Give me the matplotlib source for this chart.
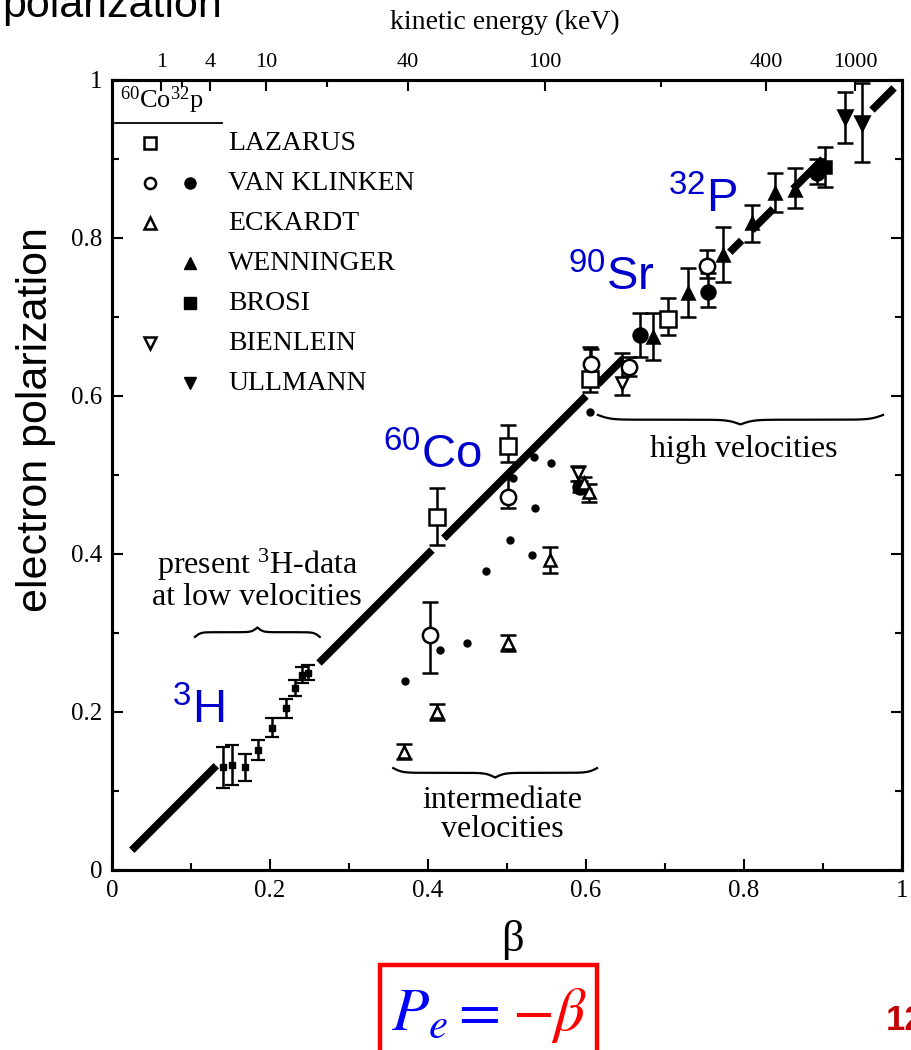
import numpy as np
import matplotlib
matplotlib.use("Agg")
import matplotlib.pyplot as plt
from matplotlib.patches import Rectangle

W, H = 912, 1050
SERIF = ["Liberation Serif", "DejaVu Serif"]
SANS = ["Liberation Sans", "DejaVu Sans"]
BLUE = "#0000cc"
plt.rcParams["mathtext.fontset"] = "stix"

# ---- values: beta, polarization, error bar low / high ----
# thick P = beta line, drawn in pieces between the data
fit_start = [0.025, 0.262, 0.420, 0.615, 0.782, 0.810, 0.862, 0.962]
fit_end = [0.132, 0.405, 0.600, 0.647, 0.797, 0.837, 0.900, 0.990]

# present 3H data at low velocities
h3_beta = [0.140, 0.152, 0.168, 0.185, 0.203, 0.220, 0.232, 0.240, 0.248]
h3_pol = [0.130, 0.133, 0.130, 0.152, 0.180, 0.205, 0.230, 0.247, 0.250]
h3_err = [0.026, 0.025, 0.017, 0.013, 0.012, 0.012, 0.010, 0.010, 0.010]

laz_beta = [0.411, 0.501, 0.605, 0.704]
laz_pol = [0.447, 0.537, 0.622, 0.697]
laz_lo = [0.411, 0.516, 0.605, 0.677]
laz_hi = [0.484, 0.563, 0.662, 0.724]

vko_beta = [0.402, 0.501, 0.606, 0.655, 0.753]
vko_pol = [0.297, 0.472, 0.640, 0.637, 0.765]
vko_lo = [0.250, 0.458, 0.625, 0.625, 0.750]
vko_hi = [0.339, 0.496, 0.660, 0.650, 0.785]

vkf_beta = [0.592, 0.668, 0.754, 0.893]
vkf_pol = [0.485, 0.677, 0.732, 0.882]
vkf_lo = [0.478, 0.649, 0.713, 0.868]
vkf_hi = [0.492, 0.705, 0.756, 0.900]

# small dots of the intermediate region
dot_beta = [0.371, 0.415, 0.449, 0.473, 0.504, 0.532, 0.535, 0.556, 0.605, 0.508, 0.534]
dot_pol = [0.239, 0.278, 0.287, 0.378, 0.418, 0.399, 0.458, 0.515, 0.580, 0.496, 0.523]

eck_beta = [0.370, 0.412, 0.501, 0.554, 0.598, 0.604]
eck_pol = [0.150, 0.200, 0.287, 0.392, 0.490, 0.478]
eck_lo = [0.140, 0.190, 0.277, 0.376, 0.482, 0.466]
eck_hi = [0.160, 0.210, 0.297, 0.409, 0.498, 0.488]

wen_beta = [0.685, 0.729, 0.774, 0.810, 0.839, 0.865]
wen_pol = [0.675, 0.730, 0.778, 0.819, 0.857, 0.861]
wen_lo = [0.646, 0.700, 0.744, 0.795, 0.833, 0.838]
wen_hi = [0.705, 0.762, 0.814, 0.842, 0.882, 0.889]

bro_beta = [0.903]
bro_pol = [0.890]
bro_lo = [0.865]
bro_hi = [0.915]

bie_beta = [0.590, 0.645]
bie_pol = [0.503, 0.617]
bie_lo = [0.493, 0.601]
bie_hi = [0.512, 0.654]

ull_beta = [0.928, 0.949]
ull_pol = [0.953, 0.945]
ull_lo = [0.920, 0.896]
ull_hi = [0.985, 0.996]

# legend table: open marker (60Co column), filled marker (32P column)
legend_names = ["LAZARUS", "VAN KLINKEN", "ECKARDT", "WENNINGER", "BROSI", "BIENLEIN", "ULLMANN"]
legend_open = ["s", "o", "^", None, None, "v", None]
legend_filled = [None, "o", None, "^", "s", None, "v"]

# top axis: kinetic energy in keV
ke_major = [1, 4, 10, 40, 100, 400, 1000]
ke_minor = [2, 20, 200]


def beta_of(t_kev):
    gamma = 1.0 + np.asarray(t_kev, float) / 511.0
    return np.sqrt(1.0 - 1.0 / gamma ** 2)


def fx(px):
    return px / W


def fy(py):
    return 1.0 - py / H


def series(ax, b, p, lo, hi, marker, filled, ms=10):
    yerr = [np.subtract(p, lo), np.subtract(hi, p)]
    ax.errorbar(b, p, yerr=yerr, fmt=marker, ms=ms, mfc="k" if filled else "white",
                mec="k", mew=1.8, ecolor="k", elinewidth=1.8, capsize=6,
                capthick=1.8, zorder=4)


def brace(ax, x0, x1, y0, h, down=True):
    n = 401
    x = np.linspace(x0, x1, n)
    half = x[: n // 2 + 1]
    k = 45.0 / (x1 - x0)
    yh = 1 / (1 + np.exp(-k * (half - half[0]))) + 1 / (1 + np.exp(-k * (half - half[-1])))
    yb = np.concatenate((yh, yh[-2::-1])) - 1.0
    sign = -1 if down else 1
    ax.plot(x, y0 + sign * h * yb, color="k", lw=1.6, zorder=3)


fig = plt.figure(figsize=(W / 100, H / 100), dpi=100)
ax = fig.add_axes([fx(112), fy(870), 790 / W, 790 / H])
ax.set_xlim(0, 1)
ax.set_ylim(0, 1)

for s, e in zip(fit_start, fit_end):
    ax.plot([s, e], [s, e], color="k", lw=5.5, solid_capstyle="butt", zorder=2)

ax.errorbar(h3_beta, h3_pol, yerr=h3_err, fmt="s", ms=4.5, mfc="k", mec="k",
            ecolor="k", elinewidth=1.8, capsize=5, capthick=1.6, zorder=4)
ax.plot(dot_beta, dot_pol, "o", ms=5, color="k", zorder=4)

series(ax, laz_beta, laz_pol, laz_lo, laz_hi, "s", False, 11)
series(ax, vko_beta, vko_pol, vko_lo, vko_hi, "o", False, 11)
series(ax, vkf_beta, vkf_pol, vkf_lo, vkf_hi, "o", True, 10)
series(ax, eck_beta, eck_pol, eck_lo, eck_hi, "^", False, 8)
series(ax, wen_beta, wen_pol, wen_lo, wen_hi, "^", True, 9)
series(ax, bro_beta, bro_pol, bro_lo, bro_hi, "s", True, 9)
series(ax, bie_beta, bie_pol, bie_lo, bie_hi, "v", False, 8)
series(ax, ull_beta, ull_pol, ull_lo, ull_hi, "v", True, 10)

# braces and their captions
brace(ax, 0.105, 0.263, 0.301, 0.012, down=False)
brace(ax, 0.356, 0.614, 0.123, 0.012, down=True)
brace(ax, 0.615, 0.976, 0.570, 0.012, down=True)
ax.text(0.184, 0.327, "present $\\mathregular{^{3}}$H-data\nat low velocities", ha="center",
        va="bottom", fontsize=23, family=SERIF, linespacing=1.0)
ax.text(0.494, 0.106, "intermediate\nvelocities", ha="center", va="top",
        fontsize=23, family=SERIF, linespacing=1.0)
ax.text(0.800, 0.550, "high velocities", ha="center", va="top", fontsize=23, family=SERIF)

# isotope labels
for xx, yy, s in [(172, 723, "$\\mathregular{^{3}H}$"), (383, 468, "$\\mathregular{^{60}Co}$"),
                  (568, 290, "$\\mathregular{^{90}Sr}$"), (668, 212, "$\\mathregular{^{32}P}$")]:
    fig.text(fx(xx), fy(yy), s, color=BLUE, fontsize=34, family=SANS, va="baseline")

# hand-made legend
ax.text(0.010, 0.955, "$\\mathregular{^{60}Co^{32}p}$", transform=ax.transAxes, fontsize=19,
        family=SERIF, va="bottom")
ax.plot([0.004, 0.139], [0.946, 0.946], transform=ax.transAxes, color="k", lw=1.3)
for i, name in enumerate(legend_names):
    yy = 0.920 - i * 0.0506
    if legend_open[i]:
        ax.plot([0.048], [yy], legend_open[i], transform=ax.transAxes, ms=8, mfc="white",
                mec="k", mew=1.8)
    if legend_filled[i]:
        ax.plot([0.099], [yy], legend_filled[i], transform=ax.transAxes, ms=8, color="k")
    ax.text(0.147, yy, name, transform=ax.transAxes, fontsize=20, family=SERIF, va="center")

# axes styling
for sp in ax.spines.values():
    sp.set_linewidth(2.2)
ax.set_xticks([0, 0.2, 0.4, 0.6, 0.8, 1.0])
ax.set_xticklabels(["0", "0.2", "0.4", "0.6", "0.8", "1"])
ax.set_yticks([0, 0.2, 0.4, 0.6, 0.8, 1.0])
ax.set_yticklabels(["0", "0.2", "0.4", "0.6", "0.8", "1"])
ax.set_xticks(np.arange(0.1, 1.0, 0.2), minor=True)
ax.set_yticks(np.arange(0.1, 1.0, 0.2), minor=True)
ax.tick_params(which="both", direction="in", right=True, width=1.5, labelsize=18, pad=7)
ax.tick_params(which="major", length=8)
ax.tick_params(which="minor", length=5)
for lab in ax.get_xticklabels() + ax.get_yticklabels():
    lab.set_family(SERIF)

ax2 = ax.twiny()
ax2.set_xlim(0, 1)
ax2.set_xticks(beta_of(ke_major))
ax2.set_xticklabels([str(t) for t in ke_major])
ax2.set_xticks(beta_of(ke_minor), minor=True)
ax2.tick_params(which="both", direction="in", width=1.5, labelsize=16, pad=6)
ax2.tick_params(which="major", length=8)
ax2.tick_params(which="minor", length=5)
for lab in ax2.get_xticklabels():
    lab.set_family(SERIF)
for sp in ax2.spines.values():
    sp.set_linewidth(2.2)

# outer texts
fig.text(fx(505), fy(22), "kinetic energy (keV)", ha="center", va="center", fontsize=20,
         family=SERIF)
fig.text(fx(222), fy(17), "polarization", ha="right", va="baseline", fontsize=31, family=SANS)
fig.text(fx(36), fy(420), "electron polarization", rotation=90, ha="center", va="center",
         fontsize=31, family=SANS)
fig.text(fx(512), fy(940), "β", ha="center", va="center", fontsize=32, family=SERIF)

# boxed relation P_e = -beta
fig.patches.append(Rectangle((fx(380), fy(1060)), (597 - 380) / W, (1060 - 965) / H,
                             transform=fig.transFigure, fill=False, ec="#ff0000", lw=3.2))
fig.text(fx(391), fy(1030), "$P_e =$", color="#0000ff", fontsize=44, va="baseline")
fig.text(fx(512), fy(1030), "$-\\beta$", color="#ff0000", fontsize=44, va="baseline")
fig.text(fx(886), fy(1030), "12", color="#c00000", fontsize=25, weight="bold",
         family=SANS, va="baseline")

fig.savefig("out.png", dpi=100)
